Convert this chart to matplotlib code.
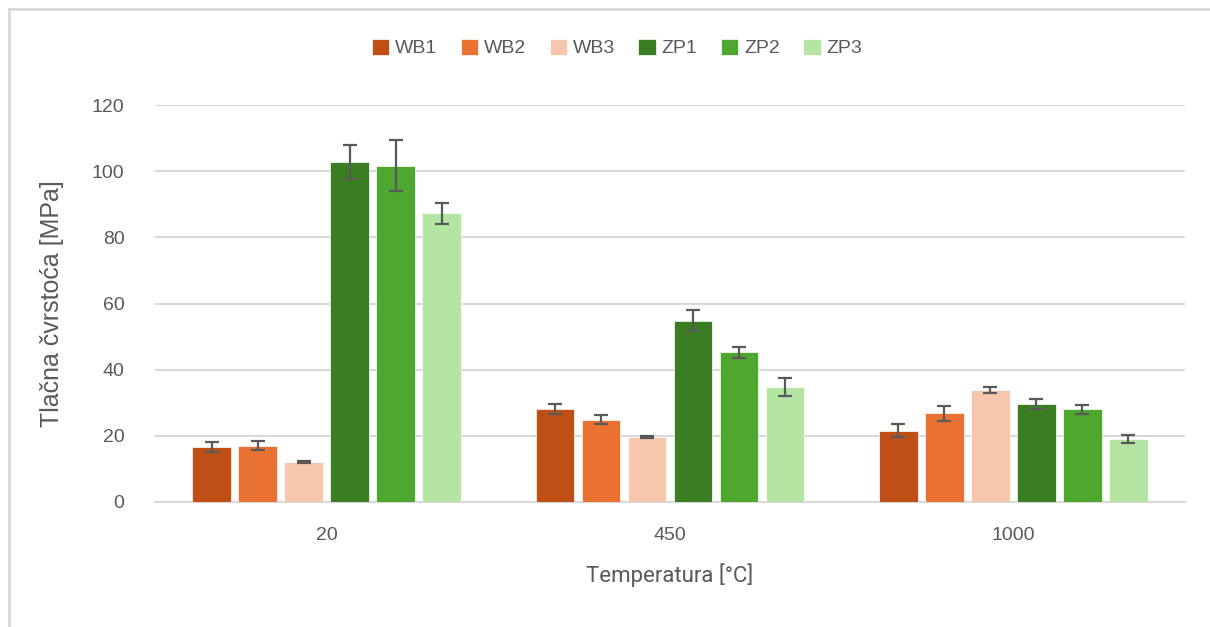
import numpy as np
import matplotlib
matplotlib.use("Agg")
import matplotlib.pyplot as plt
from matplotlib.lines import Line2D

temps = ["20", "450", "1000"]
series = ["WB1", "WB2", "WB3", "ZP1", "ZP2", "ZP3"]
colors = ["#C04F15", "#E97132", "#F6C6AD", "#3B7D23", "#4EA72E", "#B4E5A2"]

# values [MPa] per series, for 20 / 450 / 1000 degC
wb1 = [16.6, 28.1, 21.6]
wb2 = [17.0, 24.9, 26.8]
wb3 = [12.0, 19.6, 33.9]
zp1 = [102.8, 54.8, 29.7]
zp2 = [101.7, 45.3, 28.0]
zp3 = [87.3, 34.7, 19.0]

wb1_err = [1.6, 1.5, 2.0]
wb2_err = [1.4, 1.3, 2.2]
wb3_err = [0.3, 0.3, 1.0]
zp1_err = [5.2, 3.2, 1.5]
zp2_err = [7.7, 1.7, 1.4]
zp3_err = [3.2, 2.8, 1.2]

vals = [wb1, wb2, wb3, zp1, zp2, zp3]
errs = [wb1_err, wb2_err, wb3_err, zp1_err, zp2_err, zp3_err]

plt.rcParams['font.family'] = ['Liberation Sans', 'DejaVu Sans']

fig = plt.figure(figsize=(12.10, 6.27), dpi=100)
ax = fig.add_axes([155/1210, 1-502/627, 1030/1210, 397/627])

x = np.arange(len(temps))
pitch = 0.134
width = 0.112
for i, (s, v, e, c) in enumerate(zip(series, vals, errs, colors)):
    pos = x + (i - 2.5) * pitch
    ax.bar(pos, v, width, color=c, label=s, zorder=3,
           edgecolor='white', linewidth=0.5)
    ax.errorbar(pos, v, yerr=e, fmt='none', ecolor='#595959',
                elinewidth=1.6, capsize=5, capthick=1.6, zorder=4)

ax.set_xlim(-0.5, 2.5)
ax.set_ylim(0, 120)
ax.set_yticks(np.arange(0, 121, 20))
ax.set_xticks(x)
ax.set_xticklabels(temps)
ax.yaxis.grid(True, color='#D9D9D9', linewidth=1.5, zorder=0)
ax.set_axisbelow(True)
for sp in ['top', 'right', 'left']:
    ax.spines[sp].set_visible(False)
ax.spines['bottom'].set_color('#D9D9D9')
ax.spines['bottom'].set_linewidth(1.5)
ax.tick_params(axis='both', length=0, labelsize=14, labelcolor='#595959')
ax.tick_params(axis='y', pad=22)
ax.tick_params(axis='x', pad=18)

ax.set_ylabel("Tlačna čvrstoća [MPa]", fontsize=18, color='#595959', labelpad=20)
ax.set_xlabel("Temperatura [°C]", fontsize=16, color='#595959',
              family=['Liberation Sans Narrow', 'Roboto', 'DejaVu Sans'], labelpad=14)

fig.legend(loc='center', bbox_to_anchor=(617/1210, 1-48/627), ncol=6,
           frameon=False, fontsize=14, handlelength=0.9, handleheight=0.9,
           handletextpad=0.3, columnspacing=1.2, labelcolor='#595959')

# light frame on top and left
fig.add_artist(Line2D([9/1210, 1], [1-9/627, 1-9/627], color='#D9D9D9', lw=2))
fig.add_artist(Line2D([9/1210, 9/1210], [0, 1-9/627], color='#D9D9D9', lw=2))

fig.savefig("out.png", dpi=100, facecolor='white')
